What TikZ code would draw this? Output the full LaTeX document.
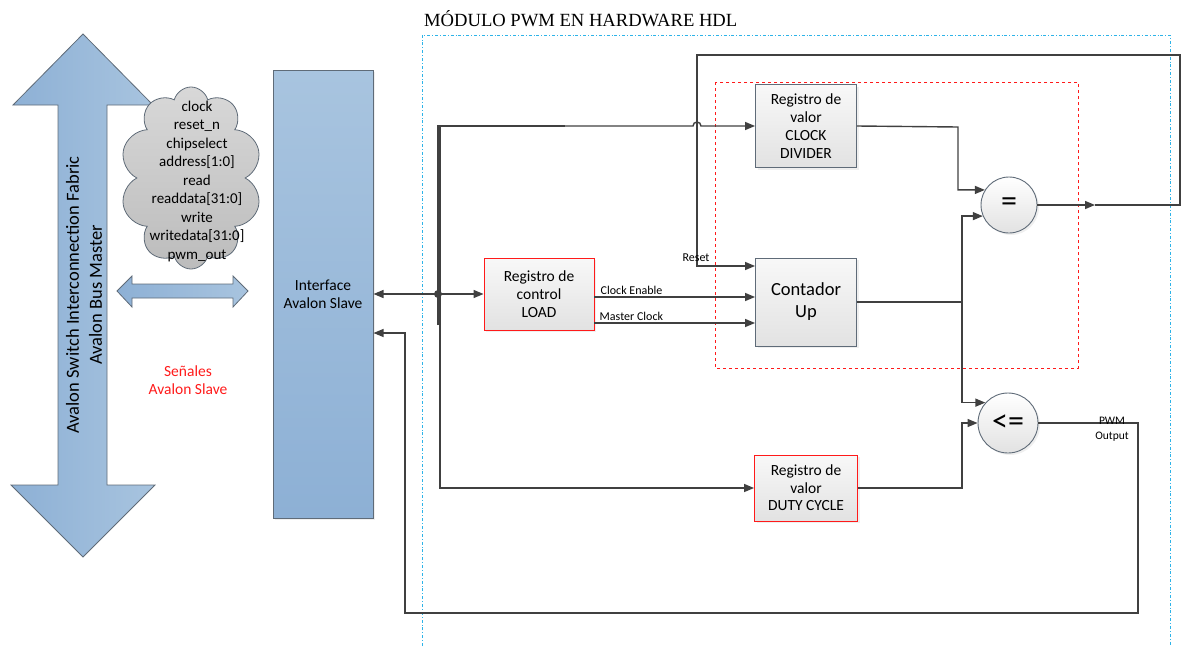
\documentclass[tikz,border=0pt]{standalone}
\usepackage{fontspec}
\setmainfont{Carlito}
\newfontfamily\titlefont{Liberation Serif}
\usepackage{tikz}
\usetikzlibrary{positioning,arrows.meta,shapes.symbols,shadows,calc}
\definecolor{ink}{HTML}{404040}
\definecolor{edge}{HTML}{5F6B78}
\definecolor{blueA}{HTML}{A8C4DF}
\definecolor{blueB}{HTML}{8DB0D5}
\definecolor{paleA}{HTML}{F8F8F8}
\definecolor{paleB}{HTML}{E2E2E2}
\definecolor{cloudA}{HTML}{D8D8D8}
\definecolor{cloudB}{HTML}{BCBCBC}
\definecolor{frame}{HTML}{2DB3E8}
\definecolor{alert}{HTML}{FF1A1A}

\begin{document}
\begin{tikzpicture}[x=1pt, y=-1pt,
  wire/.style={draw=ink, line width=1.4pt},
  bus/.style={draw=ink, line width=2.8pt},
  tip/.style={-{Triangle[length=10pt,width=8pt]}},
  shade/.style={drop shadow={shadow xshift=2pt, shadow yshift=-2pt, fill=black!12}},
  block/.style={rectangle, draw=edge, line width=0.9pt, top color=paleA, bottom color=paleB,
    align=center, inner sep=0pt, font=\fontsize{15.5}{18}\selectfont, shade},
  redblock/.style={block, draw=alert},
  cmp/.style={circle, draw=edge, line width=0.9pt, top color=white, bottom color=paleB,
    inner sep=0pt, shade},
  sig/.style={font=\fontsize{12}{15}\selectfont, inner sep=2pt}]
  \useasboundingbox (0,0) rectangle (1186,646);

  % master side: bus arrow, signal cloud, link arrow
  \draw[draw=edge, line width=0.8pt, left color=blueB, right color=blueA]
    (83,34) -- (153,105) -- (107,105) -- (107,485) -- (155,485) -- (83,557)
    -- (11,485) -- (58,485) -- (58,105) -- (13,105) -- cycle;
  \node[rotate=90, align=center, font=\fontsize{18.5}{23}\selectfont] (busname) at (84,295)
    {Avalon Switch Interconnection Fabric\\Avalon Bus Master};
  \node[cloud, cloud puffs=10, draw=edge, line width=0.8pt, top color=cloudA, bottom color=cloudB,
    minimum width=142pt, minimum height=182pt, inner sep=0pt] (sigcloud) at (191,178) {};
  \node[align=center, font=\fontsize{15}{18.5}\selectfont] (siglist) at (197,181)
    {clock\\reset\_n\\chipselect\\address[1:0]\\read\\readdata[31:0]\\write\\writedata[31:0]\\pwm\_out};
  \draw[draw=edge, line width=0.8pt, left color=blueB, right color=blueA]
    (117,291) -- (132,276) -- (132,284) -- (233,284) -- (233,276) -- (248,291)
    -- (233,307) -- (233,298) -- (132,298) -- (132,307) -- cycle;
  \node[text=alert, align=center, font=\fontsize{15.5}{18}\selectfont] (slavesig) at (188,380)
    {Señales\\Avalon Slave};
  \node[rectangle, draw=edge, line width=1pt, top color=blueA, bottom color=blueB, shade,
    minimum width=100pt, minimum height=448pt, align=center,
    font=\fontsize{15.5}{18}\selectfont] (iface) at (323,294) {Interface\\Avalon Slave};

  % module frame
  \draw[frame, line width=0.8pt, dash dot] (422,646) -- (422,35) -- (1170,35) -- (1170,646);
  \node[anchor=west, inner sep=0pt, font=\titlefont\fontsize{18.6}{20}\selectfont] (title) at (424,19)
    {MÓDULO PWM EN HARDWARE HDL};
  \draw[alert, line width=0.8pt, dashed] (715,82) rectangle (1078,368);

  % blocks
  \node[redblock, minimum width=110pt, minimum height=72pt] (load) at (539,294)
    {Registro de\\control\\LOAD};
  \node[block, minimum width=101pt, minimum height=83pt] (clkdiv) at (806,126)
    {Registro de\\valor\\CLOCK\\DIVIDER};
  \node[block, minimum width=101pt, minimum height=88pt, font=\fontsize{18.5}{22}\selectfont]
    (cont) at (806,302) {Contador\\Up};
  \node[redblock, minimum width=103pt, minimum height=66pt, font=\fontsize{15.5}{17.5}\selectfont]
    (duty) at (806,488) {Registro de\\valor\\DUTY CYCLE};
  \node[cmp, minimum size=56pt, font=\fontsize{32}{32}\selectfont] (eq) at (1009,205) {=};
  \node[cmp, minimum size=60pt, font=\fontsize{32}{32}\selectfont] (le) at (1008,423) {<=};

  % register bus
  \coordinate (jn) at (438,294);
  \coordinate (bt) at (438,126);
  \coordinate (bd) at (438,325);
  \coordinate (bm) at (565,126);
  \draw[bus] (bd) -- (bt) -- (bm);
  \draw[wire, tip] (jn) -- (iface.east);
  \draw[wire, tip] (jn) -- (load.west);
  \fill[ink] (jn) circle[radius=4pt];
  \draw[wire, tip] (bt) -- (693,126) arc[start angle=180, end angle=0, radius=4pt] -- (clkdiv.west);
  \draw[wire, tip] (440,126) |- (duty.west);

  % counter inputs
  \coordinate (ce) at (594,297);
  \coordinate (mc) at (594,323);
  \draw[wire, tip] (ce) -- (ce -| cont.west) node[pos=0, above right, sig, xshift=4pt] {Clock Enable};
  \draw[wire, tip] (mc) -- (mc -| cont.west) node[pos=0, above right, sig, xshift=3pt] {Master Clock};

  % compare outputs
  \coordinate (ro) at (1095,205);
  \coordinate (rr) at (1180,55);
  \coordinate (rs) at (697,266);
  \draw[wire, tip] (eq.east) -- (ro);
  \draw[wire, tip] (ro) -| (rr) -| (rs) -- (rs -| cont.west);
  \node[sig] (rstlbl) at (696,258) {Reset};

  \coordinate (v1) at (958,127);
  \coordinate (v2) at (962,302);
  \draw[wire, tip] (clkdiv.east) -- (v1) |- (eq.148);
  \draw[wire] (cont.east) -- (v2);
  \draw[wire, tip] (v2) |- (eq.203);
  \draw[wire, tip] (v2) |- (le.138);
  \draw[wire, tip] (duty.east) -| (v2 |- le.west) -- (le.west);

  % pwm feedback
  \coordinate (po) at (1138,613);
  \coordinate (pl) at (405,613);
  \coordinate (pi) at (405,333);
  \draw[wire, line width=1.1pt, tip] (le.east) -| (po) -- (pl) -- (pi) -- (pi -| iface.east);
  \node[sig, align=center, font=\fontsize{11.5}{15}\selectfont] (pwmlbl) at (1112,429) {PWM\\Output};
\end{tikzpicture}
\end{document}
